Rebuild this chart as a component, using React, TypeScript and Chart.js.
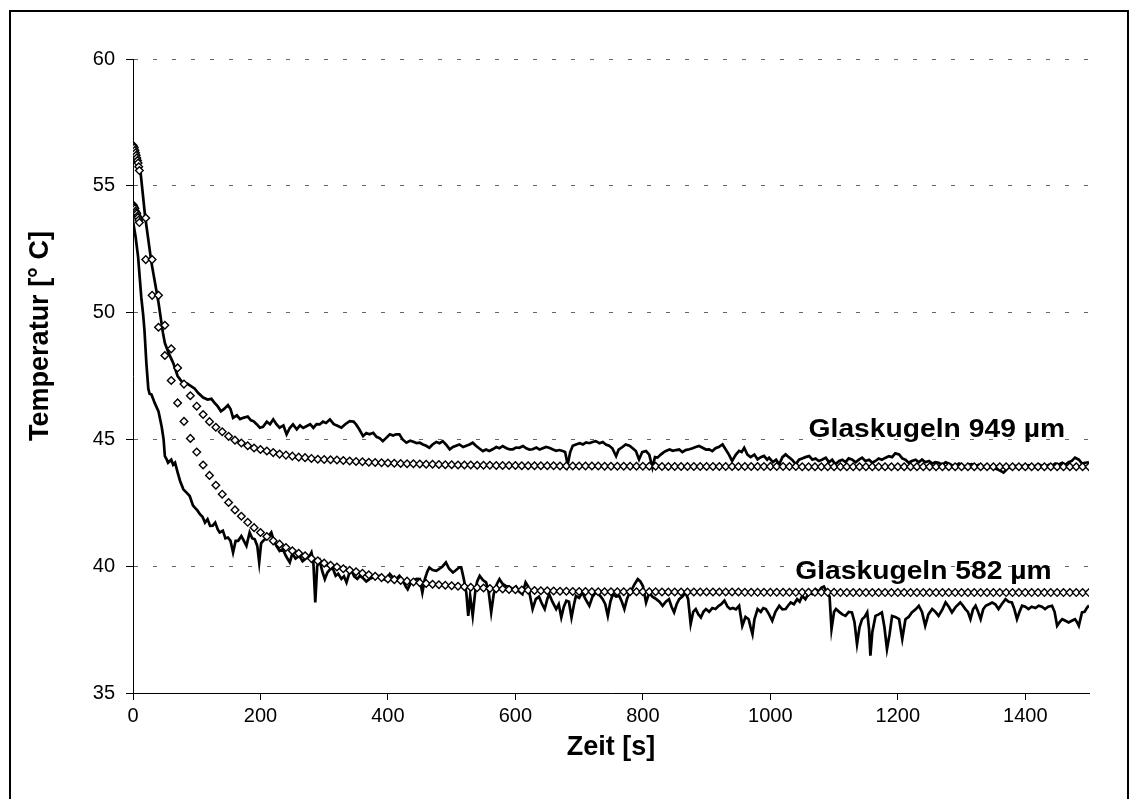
import React, { useEffect, useRef } from "react";
import { Chart, registerables } from "chart.js";

Chart.register(...registerables);

const FONT = '"Liberation Sans", Arial, Helvetica, sans-serif';

// Axis ticks
const X_MIN = 0;
const X_MAX = 1500;
const X_STEP = 200;
const Y_MIN = 35;
const Y_MAX = 60;
const Y_STEP = 5;

// Model (diamond) series: sample times [s]
const modelTime = [
  0, 1, 2, 3, 4, 5, 6, 7, 8, 9, 10,
  20, 30, 40, 50, 60, 70, 80, 90, 100,
  110, 120, 130, 140, 150, 160, 170, 180, 190, 200,
  210, 220, 230, 240, 250, 260, 270, 280, 290, 300,
  310, 320, 330, 340, 350, 360, 370, 380, 390, 400,
  410, 420, 430, 440, 450, 460, 470, 480, 490, 500,
  510, 520, 530, 540, 550, 560, 570, 580, 590, 600,
  610, 620, 630, 640, 650, 660, 670, 680, 690, 700,
  710, 720, 730, 740, 750, 760, 770, 780, 790, 800,
  810, 820, 830, 840, 850, 860, 870, 880, 890, 900,
  910, 920, 930, 940, 950, 960, 970, 980, 990, 1000,
  1010, 1020, 1030, 1040, 1050, 1060, 1070, 1080, 1090, 1100,
  1110, 1120, 1130, 1140, 1150, 1160, 1170, 1180, 1190, 1200,
  1210, 1220, 1230, 1240, 1250, 1260, 1270, 1280, 1290, 1300,
  1310, 1320, 1330, 1340, 1350, 1360, 1370, 1380, 1390, 1400,
  1410, 1420, 1430, 1440, 1450, 1460, 1470, 1480, 1490, 1500,
];

// Model 949 µm [°C]
const model949 = [
  56.6, 56.55, 56.5, 56.4, 56.3, 56.2, 56.1, 56.0, 55.9, 55.75, 55.6,
  53.73, 52.09, 50.68, 49.5, 48.57, 47.82, 47.18, 46.72, 46.31,
  45.98, 45.7, 45.48, 45.3, 45.12, 44.97, 44.86, 44.75, 44.66, 44.6,
  44.54, 44.48, 44.42, 44.38, 44.34, 44.3, 44.28, 44.25, 44.22, 44.21,
  44.2, 44.19, 44.17, 44.15, 44.13, 44.12, 44.1, 44.09, 44.08, 44.07,
  44.06, 44.05, 44.04, 44.04, 44.03, 44.02, 44.02, 44.01, 44.0, 44.0,
  43.99, 43.99, 43.99, 43.98, 43.98, 43.98, 43.97, 43.97, 43.97, 43.97,
  43.96, 43.96, 43.96, 43.96, 43.96, 43.96, 43.95, 43.95, 43.95, 43.95,
  43.95, 43.95, 43.95, 43.94, 43.94, 43.94, 43.94, 43.94, 43.94, 43.94,
  43.94, 43.94, 43.93, 43.93, 43.93, 43.93, 43.93, 43.93, 43.93, 43.93,
  43.93, 43.93, 43.93, 43.93, 43.93, 43.93, 43.93, 43.93, 43.93, 43.93,
  43.93, 43.93, 43.93, 43.93, 43.92, 43.92, 43.92, 43.92, 43.92, 43.92,
  43.92, 43.92, 43.92, 43.92, 43.92, 43.92, 43.92, 43.92, 43.92, 43.92,
  43.92, 43.92, 43.92, 43.92, 43.92, 43.92, 43.92, 43.92, 43.92, 43.92,
  43.92, 43.92, 43.92, 43.92, 43.92, 43.92, 43.92, 43.92, 43.92, 43.92,
  43.92, 43.92, 43.92, 43.92, 43.92, 43.92, 43.92, 43.92, 43.92, 43.92,
];

// Model 582 µm [°C]
const model582 = [
  54.25, 54.2, 54.15, 54.1, 54.0, 53.95, 53.9, 53.8, 53.75, 53.65, 53.55,
  52.09, 50.68, 49.42, 48.31, 47.32, 46.44, 45.71, 45.04, 44.5,
  43.99, 43.58, 43.19, 42.84, 42.51, 42.22, 41.97, 41.73, 41.52, 41.33,
  41.17, 41.0, 40.87, 40.74, 40.61, 40.51, 40.41, 40.3, 40.21, 40.12,
  40.04, 39.97, 39.9, 39.84, 39.78, 39.72, 39.66, 39.6, 39.55, 39.5,
  39.47, 39.44, 39.41, 39.38, 39.35, 39.32, 39.29, 39.27, 39.25, 39.23,
  39.21, 39.19, 39.17, 39.15, 39.14, 39.12, 39.11, 39.1, 39.08, 39.07,
  39.06, 39.05, 39.04, 39.03, 39.03, 39.02, 39.01, 39.01, 39.0, 39.0,
  39.0, 38.99, 38.99, 38.99, 38.99, 38.99, 38.99, 38.99, 38.99, 38.99,
  38.99, 38.99, 38.98, 38.98, 38.98, 38.98, 38.98, 38.98, 38.98, 38.98,
  38.98, 38.98, 38.98, 38.98, 38.98, 38.97, 38.97, 38.97, 38.97, 38.97,
  38.97, 38.97, 38.97, 38.97, 38.97, 38.97, 38.97, 38.97, 38.97, 38.97,
  38.96, 38.96, 38.96, 38.96, 38.96, 38.96, 38.96, 38.96, 38.96, 38.96,
  38.96, 38.96, 38.96, 38.96, 38.96, 38.96, 38.96, 38.96, 38.96, 38.96,
  38.96, 38.96, 38.96, 38.96, 38.96, 38.96, 38.96, 38.96, 38.96, 38.96,
  38.96, 38.96, 38.96, 38.96, 38.96, 38.96, 38.96, 38.96, 38.96, 38.96,
];

// Measurement 949 µm
const meas949Time = [
  10, 12, 19, 29, 40, 47, 50, 56, 63, 70,
  78, 85, 91, 97, 102, 110, 117, 123, 128, 133,
  138, 143, 149, 153, 157, 163, 168, 173, 180, 185,
  189, 194, 199, 204, 210, 215, 220, 225, 230, 236,
  241, 246, 251, 257, 262, 267, 272, 278, 283, 288,
  293, 298, 303, 309, 315, 320, 327, 333, 340, 346,
  350, 355, 361, 366, 371, 377, 382, 387, 392, 397,
  403, 408, 413, 418, 423, 429, 435, 441, 445, 450,
  455, 460, 465, 470, 476, 481, 486, 491, 497, 502,
  507, 512, 518, 523, 528, 533, 538, 543, 549, 554,
  559, 565, 570, 575, 580, 586, 591, 596, 601, 606,
  612, 617, 622, 627, 633, 638, 643, 648, 653, 659,
  664, 669, 674, 678, 682, 686, 690, 695, 701, 706,
  711, 716, 721, 726, 732, 737, 742, 747, 752, 758,
  762, 768, 773, 779, 784, 789, 794, 799, 805, 810,
  815, 819, 823, 828, 833, 836, 842, 847, 852, 857,
  862, 867, 873, 878, 883, 888, 893, 899, 904, 909,
  914, 919, 925, 930, 935, 940, 946, 951, 955, 959,
  964, 969, 975, 980, 985, 990, 995, 998, 1004, 1009,
  1014, 1019, 1024, 1029, 1034, 1040, 1045, 1050, 1055, 1061,
  1066, 1071, 1076, 1081, 1087, 1092, 1097, 1102, 1108, 1113,
  1118, 1123, 1128, 1134, 1139, 1144, 1149, 1155, 1160, 1165,
  1170, 1175, 1181, 1186, 1191, 1196, 1202, 1207, 1212, 1217,
  1222, 1228, 1233, 1238, 1243, 1249, 1254, 1259, 1264, 1270,
  1275, 1280, 1285, 1290, 1296, 1301, 1306, 1311, 1316, 1322,
  1327, 1332, 1337, 1343, 1348, 1353, 1358, 1364, 1366, 1370,
  1374, 1379, 1385, 1390, 1395, 1400, 1405, 1411, 1416, 1421,
  1426, 1431, 1437, 1442, 1447, 1452, 1458, 1463, 1468, 1473,
  1478, 1484, 1489, 1494, 1500,
];
const meas949Temp = [
  55.7, 55.5, 53.8, 51.96, 50.4, 49.2, 48.8, 48.4, 48.02, 47.5,
  47.23, 47.2, 47.1, 47.0, 46.84, 46.65, 46.57, 46.6, 46.44, 46.3,
  46.11, 46.2, 46.35, 46.2, 45.85, 45.95, 45.8, 45.85, 45.9, 45.75,
  45.72, 45.6, 45.46, 45.5, 45.7, 45.6, 45.79, 45.6, 45.46, 45.55,
  45.2, 45.45, 45.59, 45.4, 45.55, 45.45, 45.52, 45.6, 45.45, 45.6,
  45.59, 45.7, 45.65, 45.79, 45.6, 45.55, 45.46, 45.6, 45.72, 45.7,
  45.59, 45.4, 45.13, 45.25, 45.2, 45.26, 45.1, 45.05, 44.93, 45.05,
  45.2, 45.15, 45.2, 45.2, 45.0, 44.87, 44.95, 44.9, 44.85, 44.87,
  44.8, 44.75, 44.67, 44.8, 44.9, 44.85, 44.93, 44.8, 44.61, 44.7,
  44.75, 44.8, 44.7, 44.75, 44.8, 44.87, 44.75, 44.65, 44.54, 44.6,
  44.54, 44.62, 44.7, 44.65, 44.74, 44.65, 44.61, 44.61, 44.68, 44.67,
  44.74, 44.65, 44.6, 44.61, 44.68, 44.6, 44.65, 44.7, 44.67, 44.6,
  44.55, 44.58, 44.54, 44.5, 44.0, 44.5, 44.75, 44.8, 44.85, 44.8,
  44.88, 44.85, 44.9, 44.93, 44.85, 44.9, 44.8, 44.75, 44.65, 44.34,
  44.6, 44.7, 44.8, 44.75, 44.65, 44.54, 44.21, 44.5, 44.54, 44.4,
  43.89, 44.3, 44.28, 44.4, 44.5, 44.54, 44.6, 44.55, 44.58, 44.6,
  44.5, 44.58, 44.61, 44.65, 44.7, 44.74, 44.68, 44.6, 44.61, 44.54,
  44.65, 44.7, 44.8, 44.6, 44.4, 44.15, 44.4, 44.55, 44.5, 44.67,
  44.4, 44.3, 44.4, 44.21, 44.3, 44.35, 44.2, 44.28, 44.1, 44.2,
  44.02, 44.3, 44.41, 44.3, 44.2, 44.02, 44.2, 44.25, 44.3, 44.34,
  44.2, 44.25, 44.15, 44.2, 44.28, 44.1, 44.2, 44.02, 44.15, 44.2,
  44.1, 44.25, 44.21, 44.1, 44.2, 44.28, 44.15, 44.2, 44.08, 44.15,
  44.25, 44.2, 44.28, 44.34, 44.3, 44.45, 44.41, 44.25, 44.2, 44.08,
  44.15, 44.2, 44.1, 44.21, 44.1, 44.15, 44.05, 44.1, 44.08, 44.0,
  44.1, 44.05, 43.98, 43.95, 44.05, 44.0, 43.9, 44.0, 44.02, 43.95,
  44.0, 43.9, 43.95, 43.89, 43.95, 43.85, 43.8, 43.72, 43.69, 43.8,
  43.9, 43.85, 43.95, 43.9, 43.95, 43.92, 43.98, 43.9, 43.95, 44.02,
  43.95, 43.9, 44.0, 43.95, 44.05, 44.0, 44.08, 44.0, 44.1, 44.15,
  44.28, 44.2, 44.05, 44.08, 44.1,
];

// Measurement 582 µm
const meas582Time = [
  0, 4, 8, 13, 16, 18, 21, 24, 26, 29,
  34, 40, 45, 48, 50, 53, 55, 60, 63, 66,
  70, 74, 79, 84, 89, 94, 97, 101, 105, 109,
  113, 117, 121, 125, 129, 133, 136, 141, 145, 149,
  153, 157, 161, 165, 170, 174, 178, 183, 187, 191,
  195, 198, 201, 204, 209, 213, 217, 221, 225, 230,
  235, 240, 246, 250, 255, 261, 266, 271, 276, 280,
  283, 286, 289, 293, 297, 301, 305, 310, 314, 318,
  322, 327, 331, 335, 339, 343, 347, 352, 356, 360,
  366, 371, 376, 381, 387, 392, 397, 403, 408, 413,
  418, 423, 428, 431, 436, 441, 445, 450, 454, 458,
  462, 465, 470, 476, 481, 486, 491, 496, 502, 507,
  512, 515, 519, 523, 526, 529, 533, 537, 540, 544,
  549, 554, 558, 562, 566, 571, 575, 580, 585, 590,
  596, 601, 606, 611, 616, 620, 624, 627, 632, 637,
  642, 646, 650, 653, 658, 664, 668, 672, 676, 680,
  684, 688, 692, 695, 700, 705, 710, 716, 721, 726,
  731, 737, 741, 745, 749, 753, 758, 763, 767, 771,
  775, 779, 783, 787, 792, 796, 800, 805, 810, 815,
  821, 826, 831, 836, 841, 845, 849, 853, 857, 862,
  867, 871, 875, 879, 883, 887, 891, 895, 899, 904,
  909, 914, 919, 923, 928, 933, 937, 941, 946, 951,
  956, 961, 966, 969, 972, 975, 980, 985, 989, 993,
  998, 1003, 1008, 1014, 1019, 1024, 1028, 1032, 1037, 1042,
  1046, 1050, 1055, 1061, 1066, 1071, 1076, 1080, 1084, 1089,
  1093, 1096, 1100, 1103, 1108, 1113, 1118, 1123, 1128, 1132,
  1136, 1140, 1144, 1148, 1152, 1155, 1157, 1160, 1165, 1170,
  1175, 1179, 1183, 1187, 1191, 1196, 1202, 1207, 1212, 1217,
  1222, 1228, 1233, 1238, 1243, 1248, 1254, 1259, 1264, 1270,
  1275, 1280, 1285, 1291, 1298, 1302, 1306, 1310, 1314, 1318,
  1322, 1326, 1330, 1334, 1338, 1343, 1348, 1353, 1358, 1363,
  1369, 1374, 1379, 1383, 1387, 1391, 1395, 1400, 1405, 1410,
  1416, 1421, 1426, 1431, 1436, 1442, 1446, 1450, 1454, 1458,
  1463, 1468, 1473, 1478, 1481, 1484, 1489, 1493, 1497, 1500,
];
const meas582Temp = [
  53.6, 53.0, 52.2, 50.6, 49.9, 49.3, 48.0, 47.0, 46.8, 46.77,
  46.44, 46.1, 45.5, 45.0, 44.34, 44.2, 44.08, 44.2, 44.0, 44.08,
  43.7, 43.35, 43.03, 42.9, 42.77, 42.4, 42.31, 42.2, 42.05, 41.95,
  41.72, 41.85, 41.59, 41.6, 41.72, 41.45, 41.33, 41.4, 41.1, 41.13,
  41.0, 40.54, 41.0, 41.0, 41.19, 41.0, 40.8, 41.33, 41.1, 41.06,
  40.8, 40.15, 40.9, 41.0, 41.1, 41.2, 41.33, 41.0, 40.8, 40.6,
  40.67, 40.4, 40.15, 40.5, 40.3, 40.41, 40.2, 40.3, 40.35, 40.54,
  40.15, 38.57, 40.0, 40.21, 39.8, 39.49, 39.75, 39.9, 39.88, 39.62,
  39.7, 39.5, 39.6, 39.36, 39.7, 39.82, 39.6, 39.5, 39.62, 39.55,
  39.4, 39.49, 39.55, 39.6, 39.62, 39.5, 39.45, 39.69, 39.55, 39.5,
  39.62, 39.45, 39.2, 39.09, 39.35, 39.45, 39.5, 39.49, 38.96, 39.5,
  39.8, 39.95, 39.85, 39.82, 39.9, 40.0, 40.15, 39.9, 39.75, 39.85,
  39.95, 39.95, 39.5, 38.96, 38.04, 38.83, 38.04, 39.0, 39.4, 39.62,
  39.45, 39.36, 39.0, 38.18, 38.9, 39.3, 39.49, 39.3, 39.22, 39.2,
  39.1, 39.2, 39.0, 38.9, 39.36, 39.2, 38.7, 38.31, 38.7, 38.8,
  38.5, 38.31, 38.7, 38.9, 38.6, 38.31, 38.5, 37.98, 38.4, 38.64,
  38.6, 37.98, 38.5, 38.83, 38.75, 38.96, 38.7, 38.44, 38.8, 38.96,
  38.9, 38.7, 38.5, 38.04, 38.6, 38.9, 38.8, 38.83, 38.6, 38.31,
  38.7, 38.96, 39.1, 39.29, 39.49, 39.4, 39.22, 38.57, 38.96, 38.8,
  38.7, 38.6, 38.44, 38.6, 38.7, 38.4, 38.18, 38.5, 38.7, 38.8,
  38.96, 38.7, 37.72, 38.2, 38.31, 38.1, 37.98, 38.2, 38.31, 38.2,
  38.35, 38.31, 38.44, 38.5, 38.64, 38.4, 38.31, 38.35, 38.3, 38.44,
  37.65, 38.0, 37.91, 37.6, 37.32, 37.9, 38.31, 38.2, 38.35, 38.31,
  38.1, 37.85, 38.2, 38.44, 38.3, 38.31, 38.45, 38.57, 38.5, 38.7,
  38.6, 38.83, 38.7, 38.96, 38.9, 39.09, 39.0, 39.15, 39.2, 38.96,
  38.8, 37.52, 38.2, 38.31, 38.2, 38.1, 38.04, 38.2, 38.18, 37.8,
  36.93, 37.6, 37.91, 38.0, 38.18, 37.5, 36.47, 37.4, 38.04, 38.1,
  38.18, 37.6, 36.73, 37.3, 38.04, 38.0, 37.91, 37.13, 37.91, 38.0,
  38.18, 38.3, 38.44, 38.2, 37.65, 38.1, 38.31, 38.2, 38.04, 38.3,
  38.57, 38.4, 38.18, 38.4, 38.57, 38.45, 38.31, 38.2, 37.91, 38.3,
  38.44, 38.2, 37.91, 38.3, 38.44, 38.5, 38.57, 38.5, 38.31, 38.5,
  38.7, 38.6, 38.57, 38.3, 37.91, 38.2, 38.44, 38.4, 38.31, 38.4,
  38.35, 38.44, 38.4, 38.31, 38.4, 38.44, 38.2, 37.65, 37.8, 37.91,
  37.85, 37.78, 37.85, 37.91, 37.8, 37.65, 38.18, 38.2, 38.37, 38.45,
];

// In-chart series labels, anchored in data coordinates (time, temperature)
const labelText = ["Glaskugeln 949 µm", "Glaskugeln 582 µm"];
const labelTime = [1060, 1039];
const labelTemp = [45.09, 39.5];

const X_TITLE = "Zeit [s]";
const Y_TITLE = "Temperatur [° C]";

function pairs(xs: number[], ys: number[]) {
  const n = Math.min(xs.length, ys.length);
  const out: { x: number; y: number }[] = [];
  for (let i = 0; i < n; i++) out.push({ x: xs[i], y: ys[i] });
  return out;
}

const textPlugin = {
  id: "chartTexts",
  afterDatasetsDraw(chart: any) {
    const { ctx, scales, chartArea } = chart;
    ctx.save();
    ctx.fillStyle = "#000";
    ctx.font = `bold 25px ${FONT}`;
    ctx.textAlign = "left";
    ctx.textBaseline = "alphabetic";
    for (let i = 0; i < labelText.length; i++) {
      const x = scales.x.getPixelForValue(labelTime[i]);
      const y = scales.y.getPixelForValue(labelTemp[i]);
      ctx.save();
      ctx.translate(x, y);
      ctx.scale(1.13, 1);
      ctx.fillText(labelText[i], 0, 0);
      ctx.restore();
    }
    // Y axis title (Excel-style, centred a little above the plot middle)
    const cy = (chartArea.top + chartArea.bottom) / 2 - 40;
    ctx.save();
    ctx.translate(41, cy);
    ctx.rotate(-Math.PI / 2);
    ctx.font = `bold 27px ${FONT}`;
    ctx.textAlign = "center";
    ctx.textBaseline = "middle";
    ctx.fillText(Y_TITLE, 0, 0);
    ctx.restore();
    ctx.restore();
  },
};

export default function App() {
  const canvasRef = useRef<HTMLCanvasElement | null>(null);

  useEffect(() => {
    const canvas = canvasRef.current;
    if (!canvas) return;
    const diamond = {
      showLine: false,
      pointStyle: "rectRot",
      pointRadius: 3.8,
      pointBackgroundColor: "#ffffff",
      pointBorderColor: "#000000",
      pointBorderWidth: 1.4,
      order: 0,
    };
    const measured = {
      borderColor: "#000000",
      borderWidth: 2.7,
      pointRadius: 0,
      tension: 0,
      fill: false,
      order: 1,
    };
    const chart = new Chart(canvas, {
      type: "line",
      data: {
        datasets: [
          { label: "Modell 949 µm", data: pairs(modelTime, model949), ...diamond },
          { label: "Modell 582 µm", data: pairs(modelTime, model582), ...diamond },
          { label: "Glaskugeln 949 µm", data: pairs(meas949Time, meas949Temp), ...measured },
          { label: "Glaskugeln 582 µm", data: pairs(meas582Time, meas582Temp), ...measured },
        ] as any,
      },
      options: {
        animation: false,
        responsive: false,
        maintainAspectRatio: false,
        layout: { padding: { left: 22, top: 59, right: 46, bottom: 31 } },
        plugins: {
          legend: { display: false },
          tooltip: { enabled: false },
        },
        scales: {
          x: {
            type: "linear",
            min: X_MIN,
            max: X_MAX,
            afterFit: (s: any) => {
              s.height = 75;
            },
            ticks: {
              stepSize: X_STEP,
              includeBounds: false,
              autoSkip: false,
              maxRotation: 0,
              color: "#000",
              padding: 4,
              font: { family: FONT, size: 20 },
              callback: (v: any) => String(v),
            },
            grid: {
              drawOnChartArea: false,
              drawTicks: true,
              tickLength: 7,
              tickColor: "#000",
              tickWidth: 1,
            },
            border: { display: true, color: "#000", width: 1 },
            title: {
              display: true,
              text: X_TITLE,
              color: "#000",
              font: { family: FONT, size: 27, weight: "bold" },
              padding: { top: 4, bottom: 4 },
            },
          },
          y: {
            type: "linear",
            min: Y_MIN,
            max: Y_MAX,
            afterFit: (s: any) => {
              s.width = 111;
            },
            ticks: {
              stepSize: Y_STEP,
              color: "#000",
              padding: 11,
              font: { family: FONT, size: 20 },
              callback: (v: any) => String(v),
            },
            grid: {
              drawOnChartArea: true,
              drawTicks: true,
              color: "#666",
              lineWidth: 1,
              tickLength: 7,
              tickColor: "#000",
              tickWidth: 1,
              tickBorderDash: [],
            },
            border: { display: true, color: "#000", width: 1, dash: [4, 15] },
            title: { display: false, text: Y_TITLE },
          },
        },
      } as any,
      plugins: [textPlugin],
    });
    return () => chart.destroy();
  }, []);

  return (
    <div
      style={{
        position: "absolute",
        left: 0,
        top: 0,
        width: 1135,
        height: 799,
        overflow: "hidden",
        background: "#fff",
      }}
    >
      <div
        style={{
          position: "absolute",
          left: 9,
          top: 10,
          width: 1120,
          height: 830,
          border: "2px solid #000",
          boxSizing: "border-box",
        }}
      />
      <canvas
        ref={canvasRef}
        width={1135}
        height={799}
        style={{ position: "absolute", left: 0, top: 0, width: 1135, height: 799 }}
      />
    </div>
  );
}
